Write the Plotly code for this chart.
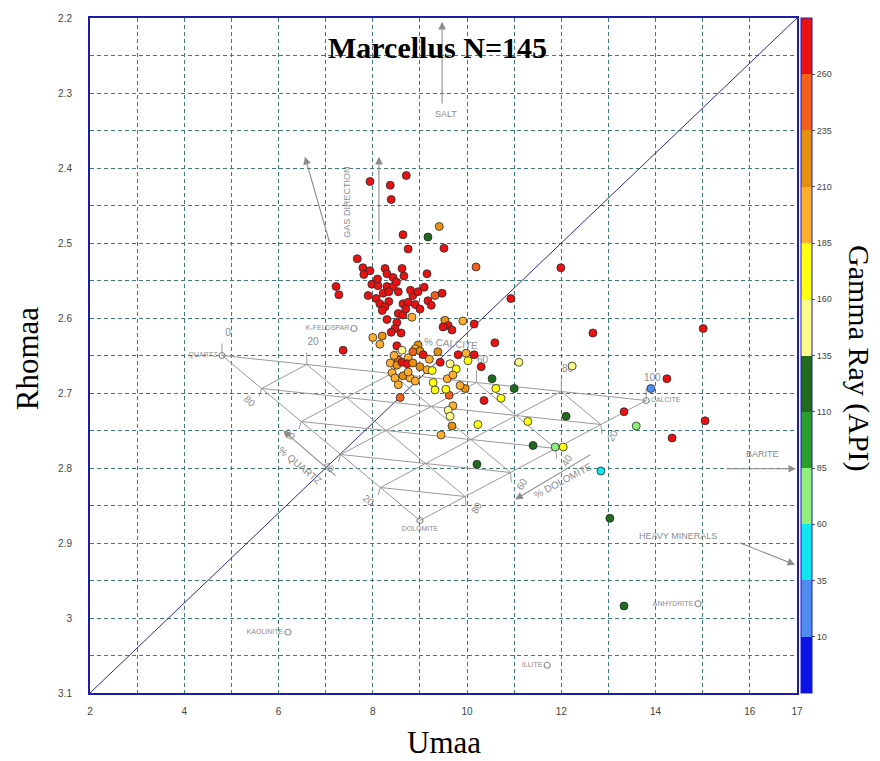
import plotly.graph_objects as go
import numpy as np

# ---------------- data ----------------
R, OR, DO, O, Y, LY, DG, G, LG, C_, LB = 272, 248, 222, 198, 172, 148, 122, 97, 72, 47, 22

umaa = [7.94, 8.71, 8.37, 8.39, 9.41, 9.17, 8.64, 8.75, 9.51, 10.19, 11.99, 7.67, 7.79, 7.94, 7.81,
        8.26, 8.30, 8.43, 8.62, 8.66, 9.15, 7.22, 7.28, 7.98, 8.11, 8.30, 8.43, 8.54, 8.22, 8.34,
        8.07, 8.15, 8.34, 8.26, 8.64, 8.75, 8.90, 8.85, 8.96, 9.09, 9.32, 9.47, 9.17, 9.24, 10.93,
        8.54, 8.64, 8.83, 8.30, 8.51, 8.47, 8.39, 9.53, 9.60, 9.49, 9.68, 9.91, 10.15, 8.00, 8.20,
        8.15, 7.37, 8.51, 8.96, 8.90, 9.00, 8.62, 8.85, 9.07, 9.38, 9.81, 9.98, 10.15, 9.43, 10.02,
        9.64, 8.37, 8.54, 8.51, 8.62, 8.75, 8.73, 9.00, 9.15, 9.26, 9.77, 8.41, 8.47, 8.64, 8.79,
        8.90, 8.54, 9.58, 9.70, 9.28, 9.32, 9.96, 8.58, 9.62, 9.70, 9.60, 9.64, 9.68, 10.23, 10.30,
        11.10, 12.23, 10.59, 10.53, 10.61, 11.00, 10.36, 10.72, 11.29, 12.10, 9.45, 12.67, 15.01, 14.24,
        13.90, 13.33, 15.05, 14.35, 13.59, 11.40, 11.87, 12.04, 10.21, 12.84, 13.03, 13.33,
        8.10, 8.50, 8.80, 8.20, 8.70, 9.00, 8.60, 8.75, 8.85, 9.20, 8.45, 9.85, 9.55, 7.90]
rhomaa = [2.418, 2.410, 2.423, 2.442, 2.478, 2.492, 2.489, 2.508, 2.507, 2.532, 2.533, 2.521, 2.533, 2.537, 2.542,
          2.534, 2.541, 2.546, 2.534, 2.544, 2.541, 2.558, 2.569, 2.555, 2.557, 2.558, 2.558, 2.565, 2.567, 2.565,
          2.574, 2.581, 2.578, 2.585, 2.581, 2.579, 2.582, 2.570, 2.565, 2.559, 2.570, 2.567, 2.577, 2.583, 2.574,
          2.594, 2.596, 2.599, 2.602, 2.606, 2.614, 2.619, 2.603, 2.610, 2.612, 2.616, 2.604, 2.608, 2.626, 2.624,
          2.635, 2.643, 2.637, 2.636, 2.641, 2.644, 2.643, 2.645, 2.649, 2.645, 2.649, 2.647, 2.649, 2.659, 2.657,
          2.661, 2.660, 2.656, 2.663, 2.659, 2.653, 2.661, 2.665, 2.669, 2.670, 2.668, 2.673, 2.680, 2.677, 2.680,
          2.684, 2.689, 2.681, 2.676, 2.686, 2.696, 2.694, 2.706, 2.703, 2.717, 2.723, 2.731, 2.744, 2.742, 2.665,
          2.659, 2.664, 2.633, 2.681, 2.694, 2.694, 2.710, 2.707, 2.738, 2.731, 2.756, 2.620, 2.614, 2.681,
          2.694, 2.725, 2.737, 2.760, 2.744, 2.770, 2.772, 2.772, 2.795, 2.804, 2.867, 2.984,
          2.548, 2.552, 2.563, 2.590, 2.588, 2.588, 2.620, 2.672, 2.660, 2.655, 2.650, 2.690, 2.695, 2.570]
gamma_ray = [R, R, R, R, DO, DG, R, R, R, OR, R, R, R, R, R,
             R, R, R, R, R, R, R, R, R, R, R, R, R, R, R,
             R, R, R, R, R, R, R, R, R, R, OR, R, R, R, R,
             R, R, O, R, R, R, R, DO, R, R, R, O, R, O, DO,
             O, R, R, DO, O, DO, LY, OR, R, DO, R, O, R, R, Y,
             LY, O, OR, DO, R, O, R, DO, O, Y, Y, O, O, DO, O,
             O, O, O, O, Y, Y, DO, OR, OR, O, LY, LY, DO, Y, R,
             LY, LY, R, DG, Y, DG, R, Y, Y, DG, O, R, R, R,
             LB, R, R, R, LG, DG, LG, Y, DG, C_, DG, DG,
             R, R, R, R, R, R, R, O, DO, O, O, O, Y, R]

# colour bar classes
cbar_ticks = [10, 35, 60, 85, 110, 135, 160, 185, 210, 235, 260]
cbar_colors = ['#0a12e6', '#4f8cf0', '#10e6ee', '#8ff07c', '#2c9e2c', '#1f6a1f',
               '#fffa8c', '#ffff12', '#ffae30', '#e5900e', '#f2601a', '#e81212']
cbar_min, cbar_max = -15, 285

# reference minerals
mineral_names = ['QUARTZ', 'CALCITE', 'DOLOMITE', 'K-FELDSPAR', 'KAOLINITE', 'ILLITE', 'ANHYDRITE']
mineral_umaa = [4.8, 13.8, 9.0, 7.6, 6.2, 11.7, 14.9]
mineral_rhomaa = [2.65, 2.71, 2.87, 2.614, 3.019, 3.063, 2.981]
mineral_textpos = ['middle left', 'middle right', 'bottom center', 'middle left',
                   'middle left', 'middle left', 'middle left']

x_ticks = [2, 4, 6, 8, 10, 12, 14, 16, 17]
y_ticks = [2.2, 2.3, 2.4, 2.5, 2.6, 2.7, 2.8, 2.9, 3.0, 3.1]
y_ticktext = ['2.2', '2.3', '2.4', '2.5', '2.6', '2.7', '2.8', '2.9', '3', '3.1']
tern_steps = [0.2, 0.4, 0.6, 0.8]

# ---------------- figure ----------------
GRID = '#3f7a7a'
FRAME = '#1c1ca6'
GREY = '#8c8c8c'
SANS = 'Liberation Sans, Arial, sans-serif'
SERIF = 'Liberation Serif, Times New Roman, serif'

fig = go.Figure()

# diagonal line corner to corner
fig.add_trace(go.Scatter(x=[2, 17], y=[3.1, 2.2], mode='lines',
                         line=dict(color='#2b2b8c', width=1), hoverinfo='skip', showlegend=False))

# ternary Q-C-D overlay
Qp = np.array([mineral_umaa[0], mineral_rhomaa[0]])
Cp = np.array([mineral_umaa[1], mineral_rhomaa[1]])
Dp = np.array([mineral_umaa[2], mineral_rhomaa[2]])
segs = [(Qp, Cp), (Qp, Dp), (Dp, Cp)]
for f in tern_steps:
    segs.append((Qp + f * (Dp - Qp), Qp + f * (Cp - Qp)))        # const quartz
    segs.append((Qp + f * (Cp - Qp), Dp + f * (Cp - Dp)))        # const calcite
    segs.append((Qp + f * (Dp - Qp), Cp + f * (Dp - Cp)))        # const dolomite
# ticks
for f in [0.0] + tern_steps + [1.0]:
    p = Qp + f * (Cp - Qp)
    segs.append((p, p + np.array([0, -0.016])))
for f in tern_steps:
    p = Dp + f * (Cp - Dp)
    segs.append((p, p + np.array([0.02, 0.013])))
    p = Qp + f * (Dp - Qp)
    segs.append((p, p + np.array([-0.05, 0.010])))
lx, ly = [], []
for a, b in segs:
    lx += [a[0], b[0], None]
    ly += [a[1], b[1], None]
fig.add_trace(go.Scatter(x=lx, y=ly, mode='lines', line=dict(color='#9a9a9a', width=1),
                         hoverinfo='skip', showlegend=False))

# % calcite numbers along Q-C edge (under points)
cx, cy, ct = [], [], []
for f in [0.0] + tern_steps + [1.0]:
    p = Qp + f * (Cp - Qp)
    cx.append(p[0] + 0.13)
    cy.append(p[1] - 0.029)
    ct.append(str(int(round(f * 100))))
fig.add_trace(go.Scatter(x=cx, y=cy, mode='text', text=ct,
                         textfont=dict(size=10, color=GREY, family=SANS),
                         hoverinfo='skip', showlegend=False))

# mineral markers and names
fig.add_trace(go.Scatter(x=mineral_umaa, y=mineral_rhomaa, mode='markers+text', text=mineral_names,
                         textposition=mineral_textpos,
                         textfont=dict(size=7, color=GREY, family=SANS),
                         marker=dict(symbol='circle-open', size=6, color='#909090', line=dict(width=1.2)),
                         hoverinfo='skip', showlegend=False))

# colour scale
cs = []
for i, c in enumerate(cbar_colors):
    lo = (cbar_min if i == 0 else cbar_ticks[i - 1])
    hi = (cbar_max if i == len(cbar_colors) - 1 else cbar_ticks[i])
    cs.append([(lo - cbar_min) / (cbar_max - cbar_min), c])
    cs.append([(hi - cbar_min) / (cbar_max - cbar_min), c])

fig.add_trace(go.Scatter(
    x=umaa, y=rhomaa, mode='markers',
    marker=dict(size=8, color=gamma_ray, colorscale=cs, cmin=cbar_min, cmax=cbar_max,
                line=dict(color='#2a2a2a', width=0.8),
                colorbar=dict(x=1.0057, xanchor='left', xpad=0, ypad=0, y=0.5, yanchor='middle',
                              len=1, lenmode='fraction', thickness=11,
                              outlinecolor=FRAME, outlinewidth=1,
                              tickvals=cbar_ticks, ticks='outside', ticklen=3, tickcolor='#555',
                              tickfont=dict(size=9, color='#444', family=SANS))),
    showlegend=False))

ann = []
# % quartz numbers along Q-D edge
for f in tern_steps:
    p = Qp + f * (Dp - Qp)
    ann.append(dict(x=p[0] - 0.24, y=p[1] + 0.017, text=str(int(round((1 - f) * 100))),
                    xanchor='center', yanchor='middle',
                    showarrow=False, textangle=40, font=dict(size=10, color=GREY, family=SANS)))
# % dolomite numbers along D-C edge
for f in tern_steps:
    p = Dp + f * (Cp - Dp)
    ann.append(dict(x=p[0] + 0.25, y=p[1] + 0.015, text=str(int(round((1 - f) * 100))),
                    xanchor='center', yanchor='middle',
                    showarrow=False, textangle=-60, font=dict(size=10, color=GREY, family=SANS)))

def arrow(hx, hy, tx, ty):
    return dict(x=hx, y=hy, ax=tx, ay=ty, xref='x', yref='y', axref='x', ayref='y', text='',
                showarrow=True, arrowhead=2, arrowsize=1.4, arrowwidth=1.1, arrowcolor=GREY, standoff=0)

def label(x, y, text, size=9, angle=0):
    return dict(x=x, y=y, xref='x', yref='y', text=text, showarrow=False, textangle=angle,
                xanchor='center', yanchor='middle',
                font=dict(size=size, color=GREY, family=SANS))

def ptext(x, y, text, size, angle=0, bold=False):
    return dict(x=x, y=y, xref='paper', yref='paper', text=('<b>%s</b>' % text) if bold else text,
                showarrow=False, textangle=angle, xanchor='center', yanchor='middle',
                font=dict(size=size, color='black', family=SERIF))

ann += [
    arrow(6.56, 2.385, 7.09, 2.501),
    arrow(8.13, 2.385, 8.13, 2.499),
    label(7.45, 2.445, 'GAS DIRECTION', 9, -90),
    arrow(9.47, 2.205, 9.47, 2.316),
    label(9.55, 2.328, 'SALT', 9),
    arrow(16.98, 2.801, 15.47, 2.801),
    label(16.26, 2.781, 'BARITE', 9),
    arrow(16.96, 2.929, 15.75, 2.899),
    label(14.48, 2.891, 'HEAVY MINERALS', 9),
    arrow(6.10, 2.750, 7.24, 2.812),
    label(6.46, 2.796, '% QUARTZ', 10, 40),
    arrow(11.02, 2.842, 12.65, 2.781),
    label(12.04, 2.817, '% DOLOMITE', 10, -28),
    label(9.66, 2.634, '% CALCITE', 10, 5),
    ptext(0.491, 0.956, 'Marcellus N=145', 30, bold=True),
    ptext(0.5, -0.0734, 'Umaa', 31),
    ptext(-0.089, 0.496, 'Rhomaa', 31, -90),
    ptext(1.088, 0.496, 'Gamma Ray (API)', 30, 90),
]

x_grid = list(range(2, 18))
y_grid = [round(2.2 + 0.05 * i, 2) for i in range(19)]

fig.update_layout(
    width=880, height=761,
    margin=dict(l=90, r=83, t=12, b=68),
    paper_bgcolor='white', plot_bgcolor='white',
    annotations=ann,
    xaxis=dict(range=[2, 17], tickmode='array', tickvals=x_grid,
               ticktext=[str(v) if v in x_ticks else '' for v in x_grid],
               showgrid=True, gridcolor=GRID, griddash='4px,3px', gridwidth=1,
               showline=True, mirror=True, linecolor=FRAME, linewidth=2, zeroline=False,
               ticks='', ticklabelstandoff=8,
               tickfont=dict(size=10, color='#444', family=SANS)),
    yaxis=dict(range=[3.1, 2.2], tickmode='array', tickvals=y_grid,
               ticktext=[y_ticktext[y_ticks.index(v)] if v in y_ticks else '' for v in y_grid],
               showgrid=True, gridcolor=GRID, griddash='4px,3px', gridwidth=1,
               showline=True, mirror=True, linecolor=FRAME, linewidth=2, zeroline=False,
               ticks='', ticklabelstandoff=14,
               tickfont=dict(size=10, color='#444', family=SANS)),
)

fig.write_html('out.html')
